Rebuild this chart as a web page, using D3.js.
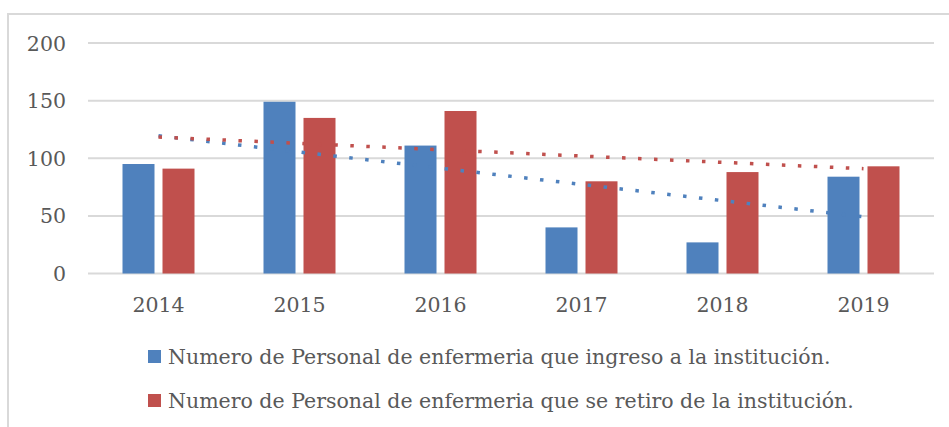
<!DOCTYPE html>
<html>
<head>
<meta charset="utf-8">
<script src="https://cdn.jsdelivr.net/npm/d3@7"></script>
<style>
  body { margin: 0; background: #fff; }
  svg { display: block; }
</style>
</head>
<body>
<svg width="949" height="427"></svg>
<script>
var years = ["2014", "2015", "2016", "2017", "2018", "2019"];
var ingreso = [95, 149, 111, 40, 27, 84];
var retiro = [91, 135, 141, 80, 88, 93];
var yTicks = [0, 50, 100, 150, 200];
var seriesNames = [
    "Numero de Personal de enfermeria que ingreso a la institución.",
    "Numero de Personal de enfermeria que se retiro de la institución."
];
var colors = ["#4f81bd", "#c0504d"];

var svg = d3.select("svg"),
    margin = {top: 43, left: 88, right: 15, bottom: 154},
    width = 934 - margin.left,
    height = 273.5 - margin.top,
    font = "'DejaVu Serif', serif",
    fontSize = 20.5,
    textColor = "#595959";

// chart area border
svg.append("rect")
    .attr("x", 8).attr("y", 14)
    .attr("width", 980).attr("height", 450)
    .attr("fill", "none")
    .attr("stroke", "#d9d9d9")
    .attr("stroke-width", 2);

var g = svg.append("g").attr("transform", "translate(" + margin.left + "," + margin.top + ")");

var x = d3.scaleBand().domain(years).range([0, width]);
var y = d3.scaleLinear().domain([0, 200]).range([height, 0]);

// gridlines
g.selectAll(".grid")
    .data(yTicks)
    .enter().append("line")
    .attr("x1", 0).attr("x2", width)
    .attr("y1", function(d) { return y(d); })
    .attr("y2", function(d) { return y(d); })
    .attr("stroke", "#d9d9d9")
    .attr("stroke-width", 2);

// y labels
g.selectAll(".ylab")
    .data(yTicks)
    .enter().append("text")
    .attr("x", -22)
    .attr("y", function(d) { return y(d) + 7.5; })
    .attr("text-anchor", "end")
    .attr("font-family", font)
    .attr("font-size", fontSize)
    .attr("fill", textColor)
    .text(function(d) { return d; });

// x labels
g.selectAll(".xlab")
    .data(years)
    .enter().append("text")
    .attr("x", function(d) { return x(d) + x.bandwidth() / 2; })
    .attr("y", height + 38)
    .attr("text-anchor", "middle")
    .attr("font-family", font)
    .attr("font-size", fontSize)
    .attr("fill", textColor)
    .text(function(d) { return d; });

var barW = 32, barGap = 8;
var series = [ingreso, retiro];

series.forEach(function(vals, si) {
    g.selectAll(".bar" + si)
        .data(vals)
        .enter().append("rect")
        .attr("x", function(d, i) {
            var c = x(years[i]) + x.bandwidth() / 2;
            return si == 0 ? c - barGap / 2 - barW : c + barGap / 2;
        })
        .attr("y", function(d) { return y(d); })
        .attr("width", barW)
        .attr("height", function(d) { return height - y(d); })
        .attr("fill", colors[si]);
});

// linear trendlines (least squares, like Excel)
function trend(vals) {
    var n = vals.length, mx = (n - 1) / 2, my = d3.mean(vals);
    var sxy = 0, sxx = 0;
    vals.forEach(function(v, i) { sxy += (i - mx) * (v - my); sxx += (i - mx) * (i - mx); });
    var b = sxy / sxx, a = my - b * mx;
    return [[0, a], [n - 1, a + b * (n - 1)]];
}

series.forEach(function(vals, si) {
    var pts = trend(vals);
    g.append("line")
        .attr("x1", x(years[pts[0][0]]) + x.bandwidth() / 2)
        .attr("y1", y(pts[0][1]))
        .attr("x2", x(years[pts[1][0]]) + x.bandwidth() / 2)
        .attr("y2", y(pts[1][1]))
        .attr("stroke", colors[si])
        .attr("stroke-width", 3.5)
        .attr("stroke-dasharray", "3.5,12.5");
});

// legend
var leg = svg.selectAll(".legend")
    .data(seriesNames)
    .enter().append("g")
    .attr("transform", function(d, i) { return "translate(148," + (350 + i * 44) + ")"; });

leg.append("rect")
    .attr("width", 13).attr("height", 13)
    .attr("fill", function(d, i) { return colors[i]; });

leg.append("text")
    .attr("x", 20)
    .attr("y", 13.5)
    .attr("font-family", font)
    .attr("font-size", fontSize)
    .attr("fill", textColor)
    .text(function(d) { return d; });
</script>
</body>
</html>
